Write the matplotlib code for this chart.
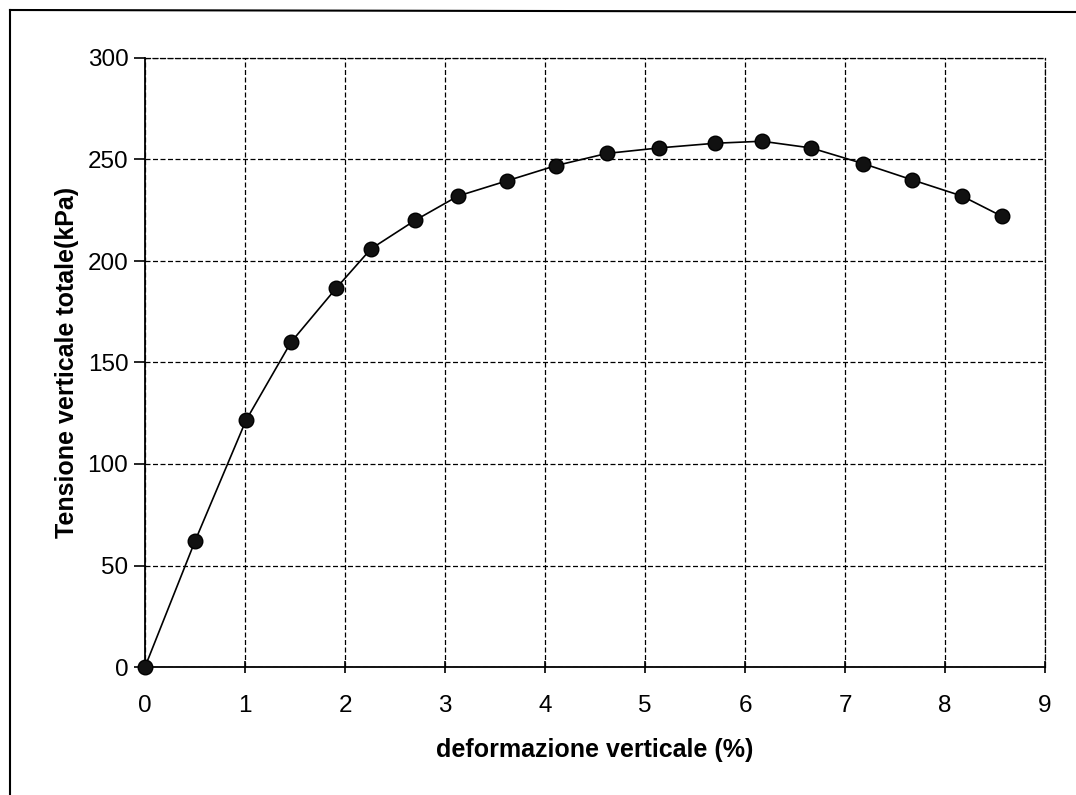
import matplotlib
matplotlib.use("Agg")
import matplotlib.pyplot as plt
from matplotlib.lines import Line2D

# deformazione verticale (%) vs tensione verticale totale (kPa)
strain = [0.0, 0.50, 1.01, 1.46, 1.91, 2.26, 2.70, 3.13, 3.62, 4.11,
          4.62, 5.14, 5.70, 6.17, 6.66, 7.18, 7.67, 8.17, 8.57]
stress = [0.0, 62.0, 121.5, 160.0, 186.5, 206.0, 220.0, 232.0, 239.5, 247.0,
          253.0, 255.7, 258.0, 259.0, 255.7, 248.0, 240.0, 232.0, 222.0]

x_ticks = list(range(0, 10))
y_ticks = [0, 50, 100, 150, 200, 250, 300]

plt.rcParams["font.family"] = ["Liberation Sans", "DejaVu Sans"]

fig = plt.figure(figsize=(10.76, 7.95), dpi=100)
ax = fig.add_axes([145 / 1076, 1 - 667 / 795, 900 / 1076, 609 / 795])

ax.plot(strain, stress, color="black", lw=1.2, marker="o", ms=10.5,
        mfc="#111111", mec="black", mew=1.0, clip_on=False, zorder=3)

ax.set_xlim(0, 9)
ax.set_ylim(0, 300)
ax.set_xticks(x_ticks)
ax.set_yticks(y_ticks)

# dashed grid, incl. the top/right edges
ax.grid(True, color="black", linestyle=(0, (4, 2)), linewidth=0.9)
for side in ["top", "right"]:
    ax.spines[side].set_linestyle((0, (4, 2)))
    ax.spines[side].set_linewidth(0.9)
for side in ["left", "bottom"]:
    ax.spines[side].set_linewidth(1.3)

ax.tick_params(axis="x", direction="inout", length=9, width=1.2,
               labelsize=17.5, pad=16)
ax.tick_params(axis="y", direction="out", length=8, width=1.2,
               labelsize=17.5, pad=4)

ax.set_xlabel("deformazione verticale (%)", fontsize=18, fontweight="bold",
              labelpad=15)
ax.set_ylabel("Tensione verticale totale(kPa)", fontsize=18, fontweight="bold",
              labelpad=6)

# scanned frame around the chart
fig.add_artist(Line2D([10 / 1076, 10 / 1076], [0, 1 - 10 / 795],
                      color="black", lw=1.5, transform=fig.transFigure))
fig.add_artist(Line2D([10 / 1076, 1], [1 - 10 / 795, 1 - 12 / 795],
                      color="black", lw=1.5, transform=fig.transFigure))

fig.savefig("out.png", dpi=100)
